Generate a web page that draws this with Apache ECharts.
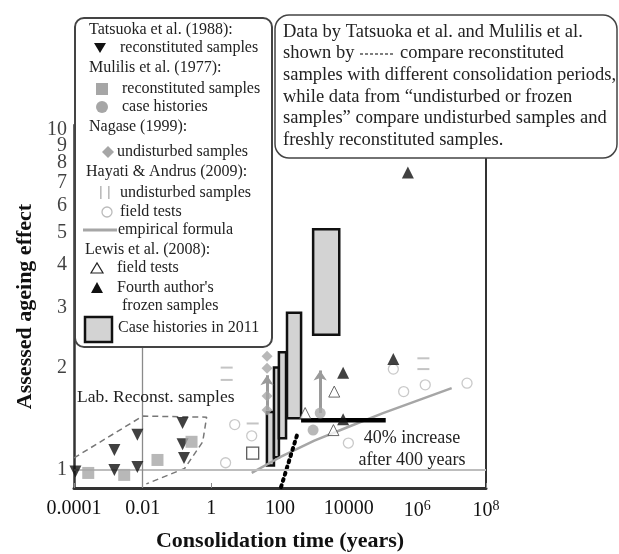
<!DOCTYPE html>
<html><head><meta charset="utf-8">
<script src="https://cdn.jsdelivr.net/npm/echarts@6/dist/echarts.min.js"></script>
<style>html,body{margin:0;padding:0;background:#fff}#c{width:619px;height:554px}</style>
</head><body><div id="c"></div>
<script>
// ---- tick labels ----
const xTickValues = [1e-4, 1e-2, 1, 100, 1e4, 1e6, 1e8];
const xTickLabels = ['0.0001', '0.01', '1', '100', '10000', '10{sup|6}', '10{sup|8}'];
const yTickValues = [1, 2, 3, 4, 5, 6, 7, 8, 9, 10];
const yTickLabels = ['1', '2', '3', '4', '5', '6', '7', '8', '9', '10'];

// ---- data (x: consolidation time in years, y: ageing effect) ----
const tatsuokaRecon = [[1.1e-4, 0.99], [0.0015, 1.145], [0.0015, 1.0], [0.007, 1.27], [0.007, 1.02], [0.145, 1.375], [0.145, 1.19], [0.16, 1.085]];
const mulilisRecon = [[2.6e-4, 0.98], [0.0029, 0.967], [0.027, 1.07], [0.265, 1.21]];
const mulilisCase = [[920, 1.31], [1480, 1.47]];
const nagaseUndist = [[42, 2.16], [42, 1.99], [42, 1.65], [42, 1.5]];
const hayatiUndist = [[2.8, 2.0], [2.8, 1.84], [16, 1.37], [1.5e6, 2.13], [1.5e6, 1.98]];
const hayatiField = [[2.6, 1.05], [4.8, 1.36], [15, 1.26], [9800, 1.2], [2e5, 1.98], [4e5, 1.7], [1.7e6, 1.78], [2.8e7, 1.8]];
const hayatiFormula = [[15, 0.98], [100, 1.09], [1000, 1.22], [1e4, 1.34], [1e5, 1.47], [1e6, 1.6], [1e7, 1.74]];
const lewisField = [[540, 1.47], [3800, 1.7], [3600, 1.31]];
const fourthFrozen = [[6900, 1.93], [2e5, 2.12], [5.3e5, 7.5], [6900, 1.41]];
const otherSquare = [[16, 1.12]];
// case history boxes: [tStart, tEnd, low, high]
const caseBoxes = [[41.6, 66.7, 1.03, 1.48], [66.7, 93, 1.09, 2.0], [93, 150, 1.24, 2.22], [160, 411, 1.42, 2.9], [923, 5320, 2.5, 5.1]];
const increaseLine = [[411, 1.4], [1.2e5, 1.4]];
const dottedLine = [[107, 0.89], [316, 1.27]];
const labPolygon = [[1e-4, 1.085], [0.01, 1.44], [0.73, 1.43], [0.56, 1.21], [0.166, 1.01], [0.0128, 0.91]];
const arrows = [[[42, 1.5], [42, 1.9]], [[1480, 1.47], [1480, 1.96]]];
const refLinesY = [1];
const refLinesX = [0.001, 0.01];

const SERIF = '"Liberation Serif","DejaVu Serif",serif';
const GRAY = '#a6a6a6';
const chart = echarts.init(document.getElementById('c'), null, {renderer: 'canvas'});

function near(a, b) { return Math.abs(Math.log10(a) - Math.log10(b)) < 1e-6; }

const legendTexts = [
  ['Tatsuoka et al. (1988):', 89, 30],
  ['reconstituted samples', 120, 48],
  ['Mulilis et al. (1977):', 89, 68],
  ['reconstituted samples', 122, 89],
  ['case histories', 122, 107],
  ['Nagase (1999):', 89, 127],
  ['undisturbed samples', 117, 152],
  ['Hayati & Andrus (2009):', 86, 172],
  ['undisturbed samples', 120, 193],
  ['field tests', 120, 212],
  ['empirical formula', 118, 230],
  ['Lewis et al. (2008):', 85, 250],
  ['field tests', 117, 268],
  ["Fourth author's", 117, 288],
  ['frozen samples', 122, 306],
  ['Case histories in 2011', 118, 328]
];
const boxTexts = [
  ['Data by Tatsuoka et al. and Mulilis et al.', 283, 32],
  ['shown by', 283, 53.5],
  ['compare reconstituted', 400, 53.5],
  ['samples with different consolidation periods,', 283, 75],
  ['while data from \u201cundisturbed or frozen', 283, 97],
  ['samples\u201d compare undisturbed samples and', 283, 118],
  ['freshly reconstituted samples.', 283, 140]
];

const graphic = [];
// legend box
graphic.push({type: 'rect', z: 100, shape: {x: 75, y: 18, width: 197, height: 329, r: 9}, style: {fill: '#fff', stroke: '#444', lineWidth: 2}});
legendTexts.forEach(t => graphic.push({type: 'text', z: 101, x: t[1], y: t[2], style: {text: t[0], font: '16px ' + SERIF, fill: '#222', textVerticalAlign: 'middle'}}));
graphic.push({type: 'polygon', z: 101, shape: {points: [[94, 43], [106, 43], [100, 53]]}, style: {fill: '#111'}});
graphic.push({type: 'rect', z: 101, shape: {x: 96, y: 83, width: 12, height: 12}, style: {fill: GRAY}});
graphic.push({type: 'circle', z: 101, shape: {cx: 102, cy: 107, r: 6}, style: {fill: GRAY}});
graphic.push({type: 'polygon', z: 101, shape: {points: [[108, 146], [114, 152], [108, 158], [102, 152]]}, style: {fill: GRAY}});
graphic.push({type: 'rect', z: 101, shape: {x: 100, y: 186, width: 1.6, height: 13}, style: {fill: '#bbb'}});
graphic.push({type: 'rect', z: 101, shape: {x: 108, y: 186, width: 1.6, height: 13}, style: {fill: '#bbb'}});
graphic.push({type: 'circle', z: 101, shape: {cx: 107, cy: 212, r: 5}, style: {fill: 'none', stroke: '#bbb', lineWidth: 1.3}});
graphic.push({type: 'line', z: 101, shape: {x1: 83, y1: 230, x2: 117, y2: 230}, style: {stroke: GRAY, lineWidth: 3}});
graphic.push({type: 'polygon', z: 101, shape: {points: [[91, 273], [103, 273], [97, 263]]}, style: {fill: 'none', stroke: '#222', lineWidth: 1.2}});
graphic.push({type: 'polygon', z: 101, shape: {points: [[91, 293], [103, 293], [97, 282]]}, style: {fill: '#111'}});
graphic.push({type: 'rect', z: 101, shape: {x: 85, y: 317, width: 27, height: 25}, style: {fill: '#d3d3d3', stroke: '#111', lineWidth: 2.5}});
// text box
graphic.push({type: 'rect', z: 100, shape: {x: 275, y: 15, width: 342, height: 143, r: 14}, style: {fill: '#fff', stroke: '#444', lineWidth: 1.5}});
boxTexts.forEach(t => graphic.push({type: 'text', z: 101, x: t[1], y: t[2], style: {text: t[0], font: '18.5px ' + SERIF, fill: '#222', textVerticalAlign: 'middle'}}));
graphic.push({type: 'line', z: 101, shape: {x1: 360, y1: 54, x2: 395, y2: 54}, style: {stroke: '#555', lineWidth: 1.3, lineDash: [3, 2]}});
// annotations
graphic.push({type: 'text', z: 50, x: 77, y: 397, style: {text: 'Lab. Reconst. samples', font: '17.5px ' + SERIF, fill: '#222', textVerticalAlign: 'middle'}});
graphic.push({type: 'text', z: 50, x: 412, y: 438, style: {text: '40% increase', font: '18px ' + SERIF, fill: '#222', textAlign: 'center', textVerticalAlign: 'middle'}});
graphic.push({type: 'text', z: 50, x: 412, y: 460, style: {text: 'after 400 years', font: '18px ' + SERIF, fill: '#222', textAlign: 'center', textVerticalAlign: 'middle'}});

const yMin = 0.885, yMax = 10.34;

const option = {
  animation: false,
  backgroundColor: '#fff',
  grid: {left: 74, right: 133, top: 125, bottom: 66, containLabel: false, outerBoundsMode: 'none'},
  xAxis: {
    type: 'log', logBase: 10, min: 1e-4, max: 1e8,
    name: 'Consolidation time (years)', nameLocation: 'middle', nameGap: 42,
    nameTextStyle: {fontFamily: SERIF, fontWeight: 'bold', fontSize: 22, color: '#111'},
    axisLine: {lineStyle: {color: '#333', width: 3}},
    axisTick: {inside: true, length: 5, lineStyle: {color: '#888'}},
    splitLine: {show: false},
    axisLabel: {
      customValues: xTickValues, margin: 11, fontFamily: SERIF, fontSize: 20, color: '#111',
      hideOverlap: false,
      formatter: v => { const i = xTickValues.findIndex(t => near(t, v)); return i >= 0 ? xTickLabels[i] : ''; },
      rich: {sup: {fontFamily: SERIF, fontSize: 14, color: '#111', padding: [0, 0, 9, 0]}}
    }
  },
  yAxis: [{
    type: 'log', logBase: 10, min: yMin, max: yMax,
    name: 'Assessed ageing effect', nameLocation: 'middle', nameGap: 38, nameRotate: 90,
    nameTextStyle: {fontFamily: SERIF, fontWeight: 'bold', fontSize: 22, color: '#111'},
    axisLine: {lineStyle: {color: '#333', width: 2.5}},
    axisTick: {show: false},
    splitLine: {show: false},
    axisLabel: {show: false}
  }, {
    type: 'log', logBase: 10, min: yMin, max: yMax, position: 'right',
    axisLine: {show: true, lineStyle: {color: '#333', width: 2}},
    axisTick: {show: false}, axisLabel: {show: false}, splitLine: {show: false}
  }],
  graphic: graphic,
  series: [
    {type: 'line', data: [], silent: true, markLine: {silent: true, symbol: 'none', label: {show: false},
      data: refLinesY.map(v => ({yAxis: v, lineStyle: {color: '#bdbdbd', width: 2, type: 'solid'}}))
        .concat(refLinesX.map(v => ({xAxis: v, lineStyle: {color: '#8a8a8a', width: 1.3, type: 'solid'}})))}},
    // y-axis tick labels, placed by the y scale at the axis
    {type: 'scatter', name: 'yTickLabels', silent: true, clip: false, symbolSize: 0, z: 6,
      data: yTickValues.map((v, i) => ({value: [1e-4, v], label: {formatter: yTickLabels[i]}})),
      label: {show: true, position: 'left', distance: 7, fontFamily: SERIF, fontSize: 20, color: '#111'}},
    {type: 'line', name: 'lab', data: labPolygon, showSymbol: false, symbol: 'none', lineStyle: {color: '#777', width: 1.5, type: [6, 4]}},
    {type: 'line', name: 'formula', data: hayatiFormula, showSymbol: false, symbol: 'none', lineStyle: {color: GRAY, width: 2.5}},
    {type: 'custom', name: 'case2011', data: caseBoxes, encode: {x: [0, 1], y: [2, 3]}, z: 3,
      renderItem: (params, api) => {
        const p0 = api.coord([api.value(0), api.value(3)]);
        const p1 = api.coord([api.value(1), api.value(2)]);
        return {type: 'rect', shape: {x: p0[0], y: p0[1], width: p1[0] - p0[0], height: p1[1] - p0[1]},
          style: {fill: '#d3d3d3', stroke: '#111', lineWidth: 2.5}};
      }},
    {type: 'line', name: 'increase', data: increaseLine, showSymbol: false, symbol: 'none', z: 4, lineStyle: {color: '#000', width: 4.5}},
    {type: 'line', name: 'dotted', data: dottedLine, showSymbol: false, symbol: 'none', z: 4, lineStyle: {color: '#000', width: 4, type: [2, 4.5], cap: 'round'}},
    {type: 'lines', coordinateSystem: 'cartesian2d', z: 4, symbol: ['none', 'arrow'], symbolSize: 10,
      lineStyle: {color: '#9a9a9a', width: 3, opacity: 1}, data: arrows.map(a => ({coords: a}))},
    {type: 'scatter', name: 'tatsuoka', data: tatsuokaRecon, symbol: 'triangle', symbolRotate: 180, symbolSize: 12, z: 5, itemStyle: {color: '#111'}},
    {type: 'scatter', name: 'mulilisRecon', data: mulilisRecon, symbol: 'rect', symbolSize: 12, z: 5, itemStyle: {color: GRAY}},
    {type: 'scatter', name: 'mulilisCase', data: mulilisCase, symbol: 'circle', symbolSize: 11, z: 5, itemStyle: {color: GRAY}},
    {type: 'scatter', name: 'nagase', data: nagaseUndist, symbol: 'diamond', symbolSize: 11, z: 5, itemStyle: {color: GRAY}},
    {type: 'scatter', name: 'hayatiUndist', data: hayatiUndist, symbol: 'rect', symbolSize: [12, 2], z: 5, itemStyle: {color: '#b5b5b5'}},
    {type: 'scatter', name: 'hayatiField', data: hayatiField, symbol: 'circle', symbolSize: 10, z: 5, itemStyle: {color: '#fff', borderColor: '#bbb', borderWidth: 1.3}},
    {type: 'scatter', name: 'lewisField', data: lewisField, symbol: 'triangle', symbolSize: 11, z: 5, itemStyle: {color: '#fff', borderColor: '#444', borderWidth: 1}},
    {type: 'scatter', name: 'fourth', data: fourthFrozen, symbol: 'triangle', symbolSize: 12, z: 5, itemStyle: {color: '#111'}},
    {type: 'scatter', name: 'square', data: otherSquare, symbol: 'rect', symbolSize: 12, z: 5, itemStyle: {color: '#fff', borderColor: '#333', borderWidth: 1.3}}
  ]
};
chart.setOption(option);
</script>
</body></html>
